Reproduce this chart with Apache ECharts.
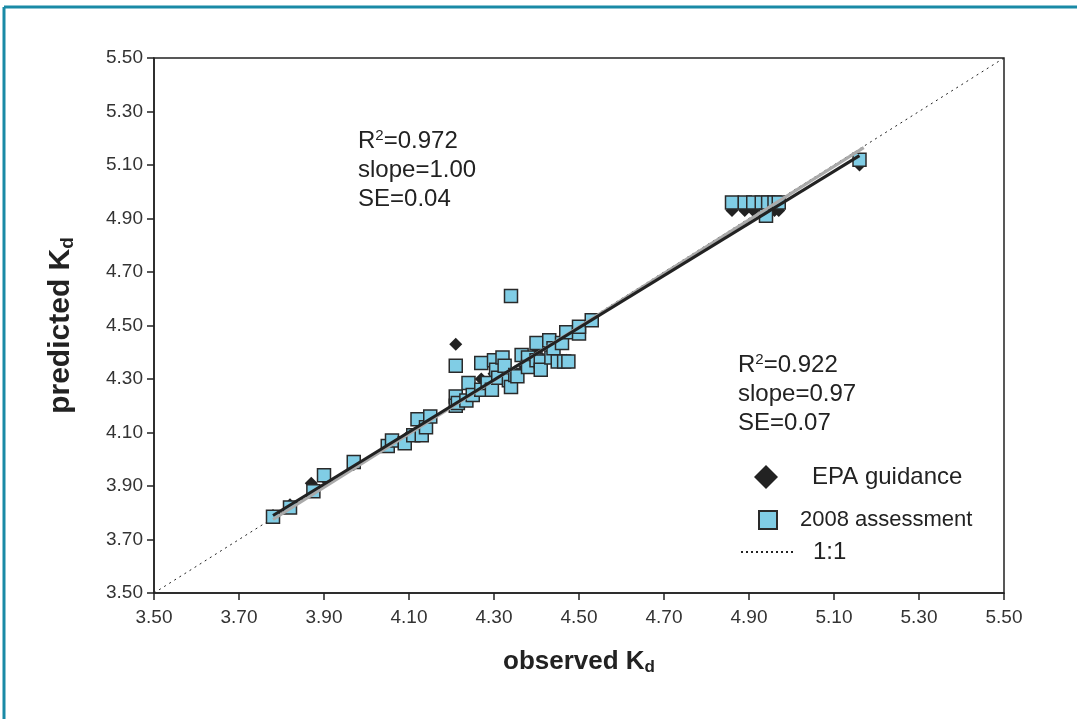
<!DOCTYPE html>
<html>
<head>
<meta charset="utf-8">
<script src="https://cdn.jsdelivr.net/npm/echarts@6/dist/echarts.min.js"></script>
<style>
html,body{margin:0;padding:0;background:#fff;}
#kdChart{width:1077px;height:719px;}
</style>
</head>
<body>
<div id="kdChart"></div>
<script type="text/javascript">
// observed vs predicted Kd
var axisTicks = [3.5, 3.7, 3.9, 4.1, 4.3, 4.5, 4.7, 4.9, 5.1, 5.3, 5.5];

var assessPoints = [
	[3.78,3.785],[3.82,3.82],[3.875,3.88],[3.90,3.94],[3.97,3.99],
	[4.05,4.05],[4.06,4.07],[4.09,4.06],[4.11,4.09],[4.12,4.15],[4.13,4.09],[4.14,4.12],[4.15,4.16],
	[4.21,4.35],[4.21,4.235],[4.21,4.20],[4.215,4.21],[4.235,4.22],[4.24,4.285],[4.25,4.24],
	[4.27,4.26],[4.27,4.36],[4.285,4.285],[4.295,4.26],[4.30,4.37],[4.305,4.335],[4.31,4.305],
	[4.32,4.38],[4.325,4.35],[4.335,4.295],[4.34,4.27],[4.34,4.61],[4.35,4.315],[4.355,4.31],
	[4.365,4.39],[4.38,4.38],[4.38,4.345],[4.40,4.37],[4.40,4.435],[4.41,4.365],[4.41,4.335],
	[4.43,4.445],[4.435,4.38],[4.44,4.415],[4.45,4.365],[4.46,4.435],[4.465,4.365],[4.47,4.475],
	[4.475,4.365],[4.50,4.47],[4.50,4.495],[4.53,4.52],
	[4.86,4.96],[4.89,4.96],[4.91,4.96],[4.93,4.96],[4.94,4.91],[4.945,4.96],[4.96,4.96],[4.97,4.96],
	[5.16,5.12]
];

var epaPoints = [
	[3.78,3.79],[3.82,3.83],[3.87,3.91],[3.90,3.93],[3.97,3.98],[4.06,4.06],[4.10,4.09],
	[4.13,4.14],[4.15,4.16],[4.21,4.43],[4.21,4.21],[4.25,4.25],[4.27,4.30],[4.30,4.32],
	[4.33,4.34],[4.37,4.35],[4.40,4.40],[4.43,4.43],[4.46,4.37],[4.47,4.37],[4.50,4.48],
	[4.53,4.52],[4.86,4.93],[4.89,4.93],[4.91,4.93],[4.945,4.93],[4.96,4.93],[4.97,4.93],
	[5.16,5.10]
];

var blackFit = [[3.78,3.79],[5.16,5.135]];
var grayFit = [[3.78,3.775],[5.17,5.165]];
var oneToOne = [[3.5,3.5],[5.5,5.5]];

var statsLeft = ['0.972', '1.00', '0.04'];
var statsRight = ['0.922', '0.97', '0.07'];

var myChart = echarts.init(document.getElementById('kdChart'));

function statText(x, y, vals) {
	var st = {font:'24px Liberation Sans', fill:'#222'};
	return [
		{type:'text', left:x, top:y, style:{
			text:'R{sup|2}=' + vals[0], font:'24px Liberation Sans', fill:'#222',
			rich:{sup:{fontSize:15, verticalAlign:'top', padding:[0,0,12,0], fill:'#222'}}
		}},
		{type:'text', left:x, top:y + 30, style:echarts.util.extend({text:'slope=' + vals[1]}, st)},
		{type:'text', left:x, top:y + 59, style:echarts.util.extend({text:'SE=' + vals[2]}, st)}
	];
}

var axisCommon = {
	type:'value', min:3.5, max:5.5, interval:0.2,
	axisLine:{show:true, lineStyle:{color:'#222', width:1.5}},
	axisTick:{show:true, inside:false, length:7, lineStyle:{color:'#222', width:1.5}},
	splitLine:{show:false},
	axisLabel:{color:'#333', fontSize:19, fontFamily:'Liberation Sans, Arial',
		formatter:function(v){ return v.toFixed(2); }}
};

var option = {
	animation:false,
	grid:{left:154, top:58, right:73, bottom:126, show:true, borderColor:'#222', borderWidth:1.5},
	xAxis:echarts.util.merge({
		name:'observed K{sub|d}', nameLocation:'middle', nameGap:54,
		nameTextStyle:{fontSize:26, fontWeight:'bold', color:'#222', fontFamily:'Liberation Sans, Arial',
			rich:{sub:{fontSize:17, fontWeight:'bold', verticalAlign:'bottom', padding:[12,0,0,0]}}},
		axisLabel:{margin:15}
	}, axisCommon, true),
	yAxis:echarts.util.merge({
		name:'predicted K{sub|d}', nameLocation:'middle', nameGap:77, nameRotate:90,
		nameTextStyle:{fontSize:30, fontWeight:'bold', color:'#222', fontFamily:'Liberation Sans, Arial',
			rich:{sub:{fontSize:19, fontWeight:'bold', verticalAlign:'bottom', padding:[13,0,0,0]}}},
		axisLabel:{margin:11}
	}, axisCommon, true),
	legend:[
		{data:['EPA guidance'], left:754, top:465, padding:0, itemWidth:24, itemHeight:24,
			textStyle:{fontSize:24, color:'#222', fontFamily:'Liberation Sans, Arial', padding:[0,0,0,29]}},
		{data:['2008 assessment'], left:758, top:509, padding:0, itemWidth:18, itemHeight:18,
			textStyle:{fontSize:22, color:'#222', fontFamily:'Liberation Sans, Arial', padding:[0,0,0,18]}},
		{data:['1:1'], left:740, top:540, padding:0, itemWidth:55, itemHeight:14,
			itemStyle:{opacity:0},
			lineStyle:{type:[2,3], width:2, color:'#222'},
			textStyle:{fontSize:24, color:'#222', fontFamily:'Liberation Sans, Arial', padding:[4,0,0,12]}}
	],
	graphic:[
		{type:'line', shape:{x1:4, y1:7, x2:1077, y2:7}, style:{stroke:'#1a8aa6', lineWidth:3}},
		{type:'line', shape:{x1:4, y1:7, x2:4, y2:719}, style:{stroke:'#1a8aa6', lineWidth:3}}
	].concat(statText(358, 128, statsLeft)).concat(statText(738, 352, statsRight)),
	series:[
		{name:'1:1', type:'line', data:oneToOne, symbol:'none', z:1,
			lineStyle:{color:'#222', width:1, type:[2,4]}},
		{name:'EPA guidance', type:'scatter', data:epaPoints, symbol:'diamond', symbolSize:13, z:2,
			itemStyle:{color:'#222', opacity:1}},
		{name:'2008 assessment', type:'scatter', data:assessPoints, symbol:'rect', symbolSize:13, z:3,
			itemStyle:{color:'#80cde5', borderColor:'#2a2a2a', borderWidth:1.5, opacity:1}},
		{name:'fit 2008', type:'line', data:grayFit, symbol:'none', z:4,
			lineStyle:{color:'#aaaaaa', width:3}},
		{name:'fit EPA', type:'line', data:blackFit, symbol:'none', z:5,
			lineStyle:{color:'#222', width:3}}
	]
};
myChart.setOption(option);
</script>
</body>
</html>
